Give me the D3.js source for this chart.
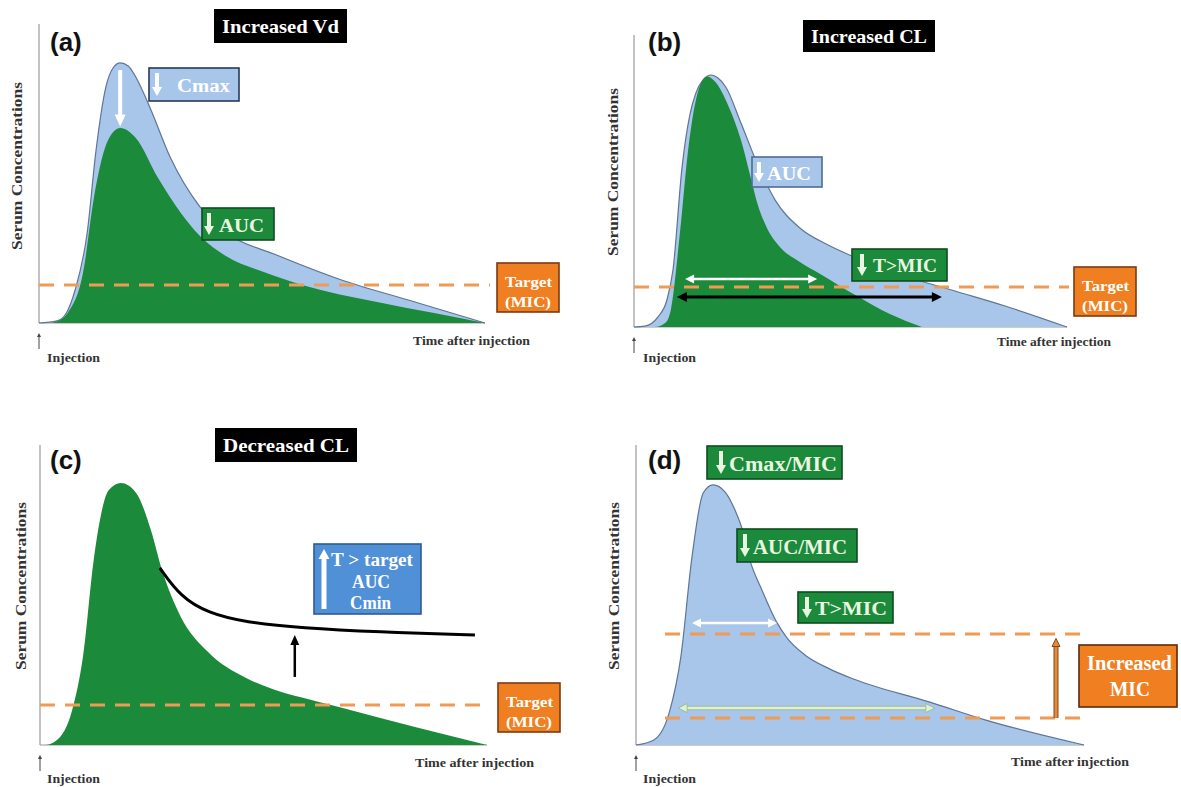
<!DOCTYPE html>
<html>
<head>
<meta charset="utf-8">
<script src="https://cdn.jsdelivr.net/npm/d3@7"></script>
<style>
  body { margin: 0; background: #fff; }
  svg text { font-family: "Liberation Serif", "Times New Roman", serif; font-weight: bold; }
</style>
</head>
<body>
<svg id="chart" width="1181" height="787"></svg>
<script>
// concentration-time profiles: [t, c], t = % of time axis, c = % of axis height
var aNormal = [[0,0],[4,0.7],[6,3],[8.1,11],[10.8,30],[12.8,57.7],[15,78.7],[16.6,85],[18.2,86.7],[20,85.7],[21.7,82],[25.1,71],[29.4,55.3],[36.1,38.7],[42.8,29.3],[52.7,23],[67.5,14.5],[84.3,7],[100,0]];
var aIncreasedVd = [[0,0],[2.5,0],[4,0.5],[6.5,3.5],[9.9,17],[12.3,41.7],[15.5,61],[18.2,65],[21.7,61.7],[26.7,48.3],[31.8,36.7],[36.1,29],[41.9,22.3],[50.4,17],[59,12.7],[75.8,7],[88.6,3.3],[100,0]];
var bNormal = [[0,0],[2.5,0.3],[5.5,3.3],[7.6,9],[9,19],[11.1,53.3],[12.9,70.7],[14.3,78],[15.9,82.3],[17.8,84],[19.4,83],[21.2,80],[24.7,68],[29.1,52.3],[32.6,42.3],[38.3,33],[44.6,27.5],[50.6,23.5],[61.4,17.5],[74.1,12],[85.7,7],[100,0]];
var bIncreasedCL = [[0,0],[4.8,0],[7.2,1.3],[8.5,5.7],[10.6,31.3],[12.5,59],[15,79.5],[16.9,83.5],[19,81.3],[21.7,74],[24.7,62.3],[26.8,50.7],[28.6,40.7],[30.7,33],[33.7,26.7],[38.3,21.7],[43,17.7],[51.5,10.3],[59.1,4.3],[66.5,0]];
var cNormal = [[0,0],[1.1,0],[3.8,1.7],[7.2,11.7],[9.6,29.3],[12.1,62.7],[15.4,85],[18.1,87.3],[21.5,84],[24.8,71.7],[27.3,58.3],[31.5,42.7],[37.6,31],[45.9,22.5],[52,18.7],[58.6,15.8],[67.1,12.6],[83.9,6],[100,0]];
var cDecreasedCL = [[26.8,59],[31.5,49.3],[37.6,44],[45.9,40.9],[58.6,39],[75.4,37.7],[97.3,36.7]];
var dNormal = [[0,0],[4,1.7],[7.4,10.7],[10,29.3],[12.5,62.7],[15,84],[17.2,86.7],[19.9,84.3],[22.1,78.3],[23.7,72],[25.4,61.7],[28.1,51.7],[31.5,40.7],[33.7,35.7],[37.7,30],[43.3,25.3],[48.7,21.9],[65.6,14.3],[78.1,8.3],[100,0]];

var panelIds = ["(a)", "(b)", "(c)", "(d)"];
var panelTitles = ["Increased Vd", "Increased CL", "Decreased CL", ""];
var micTarget = [12.7, 13.3, 13.3, 9];
var micIncreased = 37;
var axisTexts = ["Serum Concentrations", "Time after injection", "Injection"];
// time above MIC arrows: [tStart, tEnd, c]
var bTimeAboveMic = [[11.8, 42.3, 16], [9.9, 71.1, 10]];
var dTimeAboveMic = [[12.5, 31.5, 40.7], [9.4, 66.7, 12.3]];
var cShift = [57, 22.7, 36.7];   // [t, cFrom, cTo]
var aCmaxDrop = [18.2, 84.3, 65.5];

var GREEN = "#1b8a3a", GREEN_DARK = "#0d4d1f", BLUE = "#a8c6e9", BLUE_LINE = "#5d7598";
var ORANGE = "#f07f22", DASH = "#ef9a55";

var svg = d3.select("#chart");

// panel frames (pixel layout)
var frames = [
  { x0: 39,  x1: 485,  base: 323, top: 24,  label: [50, 51],   title: [214, 9, 133, 34],   serum: [17, 166],  time: [413, 345, 117],  inj: [47, 362] },
  { x0: 634, x1: 1067, base: 327, top: 35,  label: [648, 51],  title: [803, 20, 132, 32],  serum: [613, 172], time: [997, 346, 114],  inj: [643, 362] },
  { x0: 40,  x1: 487,  base: 745, top: 445, label: [50, 469],  title: [215, 428, 142, 34], serum: [21, 586],  time: [415, 767, 119],  inj: [47, 783] },
  { x0: 636, x1: 1084, base: 745, top: 445, label: [648, 469], title: null,                serum: [614, 586], time: [1011, 766, 118], inj: [643, 783] }
];

frames.forEach(function (f) {
  f.x = d3.scaleLinear().domain([0, 100]).range([f.x0, f.x1]);
  f.y = d3.scaleLinear().domain([0, 100]).range([f.base, f.base - 300]);
});

function areaFor(f) {
  return d3.area().curve(d3.curveMonotoneX)
    .x(function (d) { return f.x(d[0]); })
    .y0(f.y(0))
    .y1(function (d) { return f.y(d[1]); });
}
function lineFor(f, curve) {
  return d3.line().curve(curve || d3.curveMonotoneX)
    .x(function (d) { return f.x(d[0]); })
    .y(function (d) { return f.y(d[1]); });
}

function head(g, x, y, ang, len, wid, fill, stroke) {
  var bx = x - len * Math.cos(ang), by = y - len * Math.sin(ang);
  var px = -Math.sin(ang) * wid / 2, py = Math.cos(ang) * wid / 2;
  g.append("polygon")
    .attr("points", [[x, y], [bx + px, by + py], [bx - px, by - py]].join(" "))
    .attr("fill", fill)
    .attr("stroke", stroke || "none")
    .attr("stroke-width", stroke ? 1 : 0);
}

function arrow(g, x1, y1, x2, y2, o) {
  var ang = Math.atan2(y2 - y1, x2 - x1);
  var hl = o.head || 8;
  var sx1 = x1, sy1 = y1;
  if (o.both) { sx1 = x1 + hl * 0.8 * Math.cos(ang); sy1 = y1 + hl * 0.8 * Math.sin(ang); }
  var sx2 = x2 - hl * 0.8 * Math.cos(ang), sy2 = y2 - hl * 0.8 * Math.sin(ang);
  if (o.outline) {
    g.append("line").attr("x1", sx1).attr("y1", sy1).attr("x2", sx2).attr("y2", sy2)
      .attr("stroke", o.outline).attr("stroke-width", o.width + 2);
  }
  g.append("line").attr("x1", sx1).attr("y1", sy1).attr("x2", sx2).attr("y2", sy2)
    .attr("stroke", o.color).attr("stroke-width", o.width);
  head(g, x2, y2, ang, hl, o.headW || 9, o.color, o.outline);
  if (o.both) head(g, x1, y1, ang + Math.PI, hl, o.headW || 9, o.color, o.outline);
}

// box with text and an optional small arrow icon
function note(g, o) {
  g.append("rect").attr("x", o.x).attr("y", o.y).attr("width", o.w).attr("height", o.h)
    .attr("fill", o.fill).attr("stroke", o.stroke).attr("stroke-width", 1.6);
  if (o.icon) {
    var ix = o.icon[0], t = o.y + 5, b = o.y + o.h - 5;
    if (o.icon[1] === "down") arrow(g, ix, t, ix, b, { color: o.iconColor || "#fff", width: 4, head: 9, headW: 10 });
    else arrow(g, ix, b, ix, t, { color: o.iconColor || "#fff", width: 5, head: 10, headW: 11 });
  }
  o.lines.forEach(function (l) {
    g.append("text").attr("x", l[0]).attr("y", l[1])
      .attr("fill", o.color || "#fff")
      .style("font-size", (o.size || 18) + "px")
      .attr("textLength", l[3]).attr("lengthAdjust", "spacingAndGlyphs")
      .text(l[2]);
  });
}

function dashed(g, f, c, from, to) {
  g.append("line").attr("x1", from).attr("x2", to).attr("y1", f.y(c)).attr("y2", f.y(c))
    .attr("stroke", DASH).attr("stroke-width", 3).attr("stroke-dasharray", "15,10");
}

function target(g, x, y) {
  note(g, { x: x, y: y, w: 62, h: 49, fill: ORANGE, stroke: "#7a3b12", size: 15,
    lines: [[x + 8, y + 24, "Target", 47], [x + 8, y + 44, "(MIC)", 46]] });
}

function drawFrame(i) {
  var f = frames[i];
  var g = svg.append("g");
  g.append("line").attr("x1", f.x0).attr("x2", f.x0).attr("y1", f.top).attr("y2", f.base)
    .attr("stroke", "#9a9a9a").attr("stroke-width", 1.2);
  g.append("line").attr("x1", f.x0).attr("x2", f.x1).attr("y1", f.base).attr("y2", f.base)
    .attr("stroke", "#9a9a9a").attr("stroke-width", 1);
  // injection marker
  arrow(g, f.x0, f.base + 26, f.x0, f.base + 10, { color: "#444", width: 1, head: 4, headW: 4 });

  g.append("text").attr("x", f.label[0]).attr("y", f.label[1])
    .style("font-family", "'Liberation Sans', Arial, sans-serif").style("font-size", "26px")
    .attr("fill", "#111").text(panelIds[i]);
  if (f.title) {
    var t = f.title;
    g.append("rect").attr("x", t[0]).attr("y", t[1]).attr("width", t[2]).attr("height", t[3]).attr("fill", "#000");
    g.append("text").attr("x", t[0] + t[2] / 2).attr("y", t[1] + t[3] / 2 + 6.5)
      .attr("text-anchor", "middle").attr("fill", "#fff").style("font-size", "19px")
      .attr("textLength", t[2] - 16).attr("lengthAdjust", "spacingAndGlyphs")
      .text(panelTitles[i]);
  }
  g.append("text").attr("transform", "translate(" + f.serum[0] + "," + f.serum[1] + ") rotate(-90)")
    .attr("text-anchor", "middle").attr("dy", "0.35em").attr("fill", "#333").style("font-size", "15px")
    .attr("textLength", 168).attr("lengthAdjust", "spacingAndGlyphs")
    .text(axisTexts[0]);
  g.append("text").attr("x", f.time[0]).attr("y", f.time[1]).attr("fill", "#333").style("font-size", "12.5px")
    .attr("textLength", f.time[2]).attr("lengthAdjust", "spacingAndGlyphs").text(axisTexts[1]);
  g.append("text").attr("x", f.inj[0]).attr("y", f.inj[1]).attr("fill", "#333").style("font-size", "12.5px")
    .attr("textLength", 53).attr("lengthAdjust", "spacingAndGlyphs").text(axisTexts[2]);
  return g;
}

// ---------------- (a) increased Vd
(function () {
  var f = frames[0], g = drawFrame(0);
  g.append("path").datum(aNormal).attr("d", areaFor(f)).attr("fill", BLUE);
  g.append("path").datum(aNormal).attr("d", lineFor(f)).attr("fill", "none").attr("stroke", BLUE_LINE).attr("stroke-width", 1.2);
  g.append("path").datum(aIncreasedVd).attr("d", areaFor(f)).attr("fill", GREEN);
  dashed(g, f, micTarget[0], f.x0, 490);
  arrow(g, f.x(aCmaxDrop[0]), f.y(aCmaxDrop[1]), f.x(aCmaxDrop[0]), f.y(aCmaxDrop[2]),
    { color: "#fff", width: 4, head: 12, headW: 11 });
  note(g, { x: 149, y: 68, w: 90, h: 33, fill: BLUE, stroke: "#27395a", size: 19,
    icon: [157, "down"], lines: [[177, 92, "Cmax", 53]] });
  note(g, { x: 202, y: 208, w: 72, h: 32, fill: GREEN, stroke: GREEN_DARK, size: 18, color: "#e9f5e0",
    icon: [209, "down"], iconColor: "#e9f5e0", lines: [[219, 232, "AUC", 45]] });
  target(g, 497, 263);
})();

// ---------------- (b) increased CL
(function () {
  var f = frames[1], g = drawFrame(1);
  g.append("path").datum(bNormal).attr("d", areaFor(f)).attr("fill", BLUE);
  g.append("path").datum(bNormal).attr("d", lineFor(f)).attr("fill", "none").attr("stroke", BLUE_LINE).attr("stroke-width", 1.2);
  g.append("path").datum(bIncreasedCL).attr("d", areaFor(f)).attr("fill", GREEN);
  dashed(g, f, micTarget[1], f.x0, 1069);
  var w = bTimeAboveMic[0], k = bTimeAboveMic[1];
  arrow(g, f.x(k[0]), f.y(k[2]), f.x(k[1]), f.y(k[2]), { color: "#000", width: 3, head: 10, headW: 10, both: true });
  arrow(g, f.x(w[0]), f.y(w[2]), f.x(w[1]), f.y(w[2]), { color: "#fff", width: 2.5, head: 9, headW: 9, both: true });
  note(g, { x: 752, y: 157, w: 70, h: 30, fill: BLUE, stroke: "#4d6b94", size: 18,
    icon: [759, "down"], lines: [[767, 180, "AUC", 44]] });
  note(g, { x: 852, y: 249, w: 95, h: 32, fill: GREEN, stroke: GREEN_DARK, size: 18, color: "#e9f5e0",
    icon: [862, "down"], iconColor: "#e9f5e0", lines: [[873, 272, "T>MIC", 64]] });
  target(g, 1074, 267);
})();

// ---------------- (c) decreased CL
(function () {
  var f = frames[2], g = drawFrame(2);
  g.append("path").datum(cNormal).attr("d", areaFor(f)).attr("fill", GREEN);
  g.append("path").datum(cDecreasedCL).attr("d", lineFor(f, d3.curveBasis)).attr("fill", "none").attr("stroke", "#000").attr("stroke-width", 3);
  dashed(g, f, micTarget[2], f.x0, 490);
  arrow(g, f.x(cShift[0]), f.y(cShift[1]), f.x(cShift[0]), f.y(cShift[2]), { color: "#000", width: 2.5, head: 10, headW: 9 });
  note(g, { x: 314, y: 544, w: 107, h: 70, fill: "#5090d6", stroke: "#2e5a96", size: 18,
    icon: [324, "up"], lines: [[331, 566, "T > target", 82], [352, 588, "AUC", 38], [350, 609, "Cmin", 41]] });
  target(g, 498, 683);
})();

// ---------------- (d) increased MIC
(function () {
  var f = frames[3], g = drawFrame(3);
  g.append("path").datum(dNormal).attr("d", areaFor(f)).attr("fill", BLUE);
  g.append("path").datum(dNormal).attr("d", lineFor(f)).attr("fill", "none").attr("stroke", BLUE_LINE).attr("stroke-width", 1.2);
  dashed(g, f, micIncreased, 665, 1088);
  dashed(g, f, micTarget[3], 665, 1088);
  var w = dTimeAboveMic[0], l = dTimeAboveMic[1];
  arrow(g, f.x(w[0]), f.y(w[2]), f.x(w[1]), f.y(w[2]), { color: "#fff", width: 2.5, head: 9, headW: 9, both: true });
  arrow(g, f.x(l[0]), f.y(l[2]), f.x(l[1]), f.y(l[2]), { color: "#dff3d3", width: 2.5, head: 9, headW: 9, both: true, outline: "#9fb9a0" });
  arrow(g, f.x(93.75), f.y(micTarget[3]), f.x(93.75), f.y(micIncreased - 1.5), { color: "#e8893a", width: 3, head: 8, headW: 8, outline: "#7a4a1c" });
  note(g, { x: 707, y: 446, w: 135, h: 33, fill: GREEN, stroke: GREEN_DARK, size: 20, color: "#e9f5e0",
    icon: [721, "down"], iconColor: "#e9f5e0", lines: [[729, 471, "Cmax/MIC", 108]] });
  note(g, { x: 737, y: 529, w: 120, h: 33, fill: GREEN, stroke: GREEN_DARK, size: 20, color: "#e9f5e0",
    icon: [745, "down"], iconColor: "#e9f5e0", lines: [[753, 554, "AUC/MIC", 94]] });
  note(g, { x: 798, y: 592, w: 95, h: 31, fill: GREEN, stroke: GREEN_DARK, size: 19, color: "#e9f5e0",
    icon: [807, "down"], iconColor: "#e9f5e0", lines: [[815, 615, "T>MIC", 72]] });
  note(g, { x: 1079, y: 645, w: 98, h: 62, fill: ORANGE, stroke: "#5a2a0a", size: 20,
    lines: [[1087, 670, "Increased", 85], [1110, 696, "MIC", 40]] });
})();
</script>
</body>
</html>
